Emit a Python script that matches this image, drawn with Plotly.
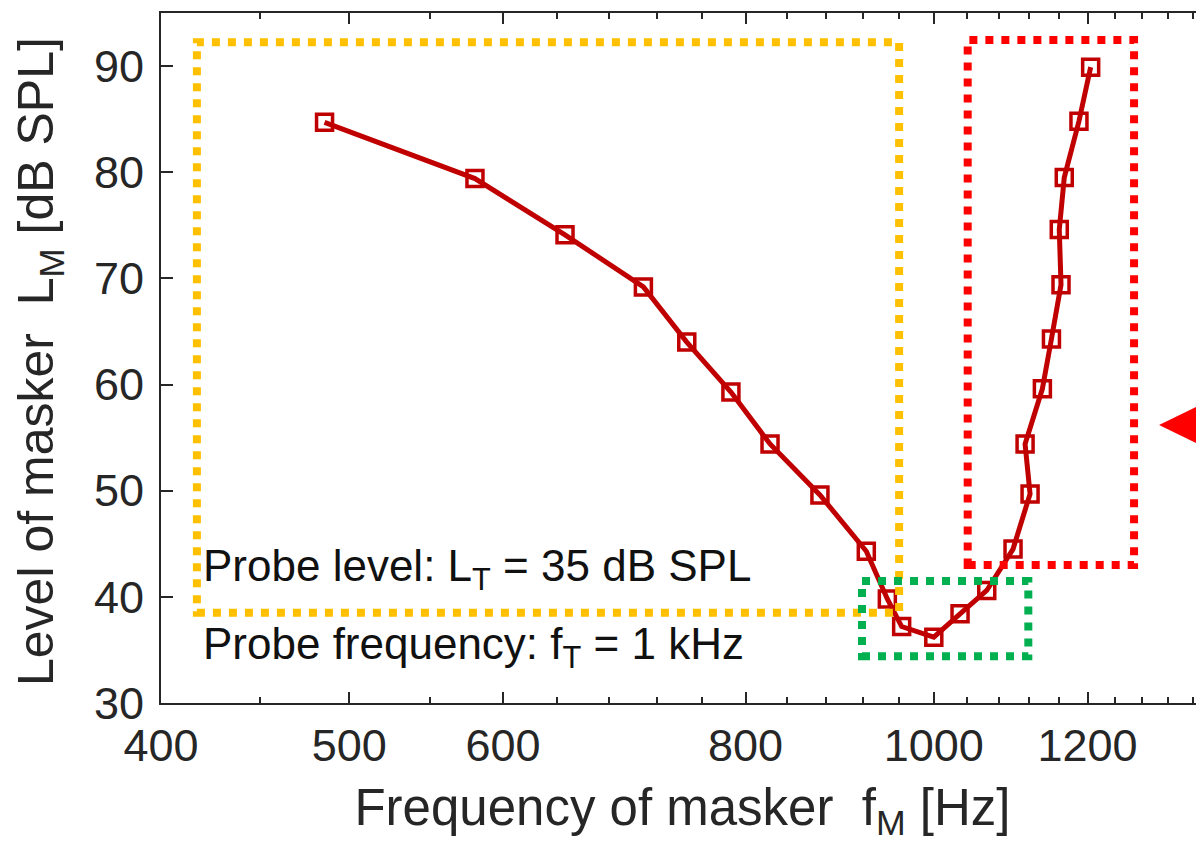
import math
import plotly.graph_objects as go

# ---- data ----
freq_hz = [485.6, 580.4, 645.8, 708.7, 746.1, 786.2, 823.5, 873.7, 923.1, 946.4,
           962.6, 1000.0, 1031.6, 1064.8, 1098.5, 1120.9, 1114.3, 1137.4, 1149.7,
           1162.8, 1160.4, 1167.3, 1187.8, 1204.4]
level_db = [84.7, 79.4, 74.1, 69.2, 64.0, 59.3, 54.4, 49.6, 44.3, 39.8,
            37.2, 36.2, 38.4, 40.6, 44.5, 49.7, 54.4, 59.6, 64.3,
            69.4, 74.6, 79.5, 84.8, 89.9]

x_tick_vals = [400, 500, 600, 800, 1000, 1200]
x_tick_text = ["400", "500", "600", "800", "1000", "1200"]
x_minor_vals = [450, 550, 640, 680, 720, 760, 840, 880, 920, 960,
                1040, 1080, 1120, 1160, 1240, 1280, 1320, 1360]
y_tick_vals = [30, 40, 50, 60, 70, 80, 90]

# highlight boxes (data coordinates: f0, f1, L0, L1)
box_orange = (417.4, 959.7, 38.5, 92.25)
box_red = (1041.0, 1268.0, 43.0, 92.45)
box_green = (918.4, 1118.6, 34.4, 41.5)

FONT = "Liberation Sans, Arial, Helvetica, sans-serif"
AX = "#262626"

# page body has an 8px margin; figure sized so it ends at the window edge
W, H = 1196, 839
ML, MT, MB = 153, 5, 144
PW = W - ML
PH = H - MT - MB

fig = go.Figure()
fig.add_trace(go.Scatter(
    x=freq_hz, y=level_db, mode="lines+markers",
    line=dict(color="#C00000", width=5),
    marker=dict(symbol="square-open", size=16, color="#C00000",
                line=dict(width=3.5, color="#C00000")),
    showlegend=False, cliponaxis=False,
))

def rect(b, color):
    fig.add_shape(type="rect", xref="x", yref="y",
                  x0=b[0], x1=b[1], y0=b[2], y1=b[3],
                  line=dict(color=color, width=8, dash="dot"),
                  fillcolor="rgba(0,0,0,0)", layer="above")

rect(box_orange, "#FFC000")
rect(box_red, "#FF0000")
rect(box_green, "#00B050")

# red pointer triangle at right edge
fig.add_shape(type="path", xref="paper", yref="paper",
              path="M 0.9569,0.4029 L 1.03,0.4565 L 1.03,0.3493 Z",
              fillcolor="#FF0000", line=dict(width=0))

fig.add_annotation(xref="paper", yref="paper", x=0.0384, y=0.194,
                   xanchor="left", yanchor="middle", showarrow=False,
                   text="Probe level: L<sub>T</sub> = 35 dB SPL",
                   font=dict(family=FONT, size=44, color="#111111"))
fig.add_annotation(xref="paper", yref="paper", x=0.0384, y=0.081,
                   xanchor="left", yanchor="middle", showarrow=False,
                   text="Probe frequency: f<sub>T</sub> = 1 kHz",
                   font=dict(family=FONT, size=44, color="#111111"))

# y-axis title
fig.add_annotation(xref="paper", yref="paper", x=(31 - ML) / PW, y=0.5 - 4 / PH,
                   xanchor="center", yanchor="middle", showarrow=False,
                   textangle=-90,
                   text="Level of masker\u00a0\u00a0L<sub>M</sub> [dB SPL]",
                   font=dict(family=FONT, size=50, color=AX))

x_lo = math.log10(400)
x_hi = x_lo + PW / 1942

fig.update_layout(
    width=W, height=H, autosize=False,
    margin=dict(l=ML, r=0, t=MT, b=MB),
    paper_bgcolor="white", plot_bgcolor="white",
    font=dict(family=FONT, color=AX),
    xaxis=dict(
        type="log", range=[x_lo, x_hi], automargin=False,
        tickmode="array", tickvals=x_tick_vals, ticktext=x_tick_text,
        ticks="inside", ticklen=11, tickwidth=2, tickcolor=AX,
        minor=dict(tickmode="array", tickvals=x_minor_vals, ticks="inside",
                   ticklen=6, tickwidth=2, tickcolor=AX, showgrid=False),
        showline=True, linecolor=AX, linewidth=2, mirror="ticks",
        showgrid=False, zeroline=False,
        tickfont=dict(family=FONT, size=45, color=AX),
        ticklabelstandoff=2,
        title=dict(text="Frequency of masker\u00a0\u00a0f<sub>M</sub> [Hz]",
                   font=dict(family=FONT, size=51, color=AX), standoff=19),
    ),
    yaxis=dict(
        range=[30, 95], automargin=False,
        tickmode="array", tickvals=y_tick_vals,
        ticks="inside", ticklen=12, tickwidth=2, tickcolor=AX,
        showline=True, linecolor=AX, linewidth=2, mirror=False,
        showgrid=False, zeroline=False,
        tickfont=dict(family=FONT, size=45, color=AX),
        ticklabelstandoff=6,
    ),
)

fig.write_html("out.html")
